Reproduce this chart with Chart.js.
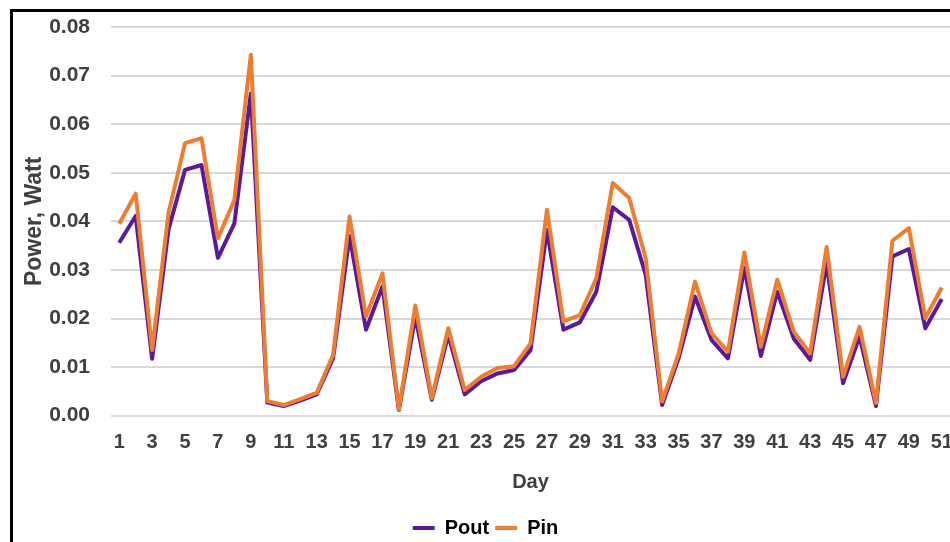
<!DOCTYPE html>
<html>
<head>
<meta charset="utf-8">
<script src="https://cdn.jsdelivr.net/npm/chart.js@4.4.1/dist/chart.umd.min.js"></script>
<style>
  html, body { margin: 0; padding: 0; width: 950px; height: 542px; overflow: hidden; background: #fff; }
  #frame {
    position: absolute; left: 10px; top: 9px;
    border-left: 3px solid #000; border-top: 3px solid #000;
    width: 960px; height: 536px; background: #fff;
  }
  #chart { display: block; }
</style>
</head>
<body>
<div id="frame"><canvas id="chart" width="960" height="536"></canvas></div>
<script>
// Daily output and input power (W)
const days = Array.from({ length: 51 }, (_, i) => String(i + 1));

const pout = [
  0.0356, 0.0411, 0.0117, 0.0384, 0.0506, 0.0516, 0.0325, 0.0396, 0.0663, 0.0027,
  0.0020, 0.0031, 0.0044, 0.0118, 0.0370, 0.0177, 0.0266, 0.0012, 0.0204, 0.0033,
  0.0166, 0.0044, 0.0071, 0.0087, 0.0094, 0.0135, 0.0382, 0.0177, 0.0192, 0.0255,
  0.0429, 0.0403, 0.0290, 0.0022, 0.0118, 0.0245, 0.0156, 0.0118, 0.0304, 0.0123,
  0.0255, 0.0159, 0.0115, 0.0314, 0.0067, 0.0163, 0.0020, 0.0328, 0.0343, 0.0180,
  0.0240
];

const pin = [
  0.0395, 0.0457, 0.0135, 0.0418, 0.0561, 0.0571, 0.0365, 0.0444, 0.0743, 0.0030,
  0.0022, 0.0034, 0.0047, 0.0125, 0.0410, 0.0204, 0.0293, 0.0013, 0.0227, 0.0036,
  0.0180, 0.0053, 0.0080, 0.0098, 0.0102, 0.0149, 0.0424, 0.0194, 0.0207, 0.0283,
  0.0479, 0.0448, 0.0324, 0.0029, 0.0127, 0.0276, 0.0170, 0.0132, 0.0336, 0.0142,
  0.0280, 0.0173, 0.0128, 0.0347, 0.0080, 0.0183, 0.0026, 0.0360, 0.0386, 0.0201,
  0.0264
];

const yTicks = [0, 0.01, 0.02, 0.03, 0.04, 0.05, 0.06, 0.07, 0.08];

const FONT = '"Liberation Sans", Arial, sans-serif';
const TEXT = '#404040';

new Chart(document.getElementById('chart'), {
  type: 'line',
  data: {
    labels: days,
    datasets: [
      {
        label: 'Pout', data: pout, order: 1,
        borderColor: '#5B1A98', backgroundColor: '#5B1A98',
        borderWidth: 4, pointRadius: 0, tension: 0, borderJoinStyle: 'round'
      },
      {
        label: 'Pin', data: pin, order: 0,
        borderColor: '#ED7D31', backgroundColor: '#ED7D31',
        borderWidth: 4, pointRadius: 0, tension: 0, borderJoinStyle: 'round'
      }
    ]
  },
  options: {
    responsive: false,
    animation: false,
    layout: { padding: { left: 8, right: 23, top: 15, bottom: 0 } },
    plugins: {
      tooltip: { enabled: false },
      legend: {
        position: 'bottom',
        labels: {
          sort: (a, b) => a.datasetIndex - b.datasetIndex,
          boxWidth: 22, boxHeight: 4, padding: 6,
          color: TEXT,
          font: { family: FONT, size: 20, weight: 'bold' },
          generateLabels: (chart) => chart.data.datasets.map((ds, i) => ({
            text: ds.label, datasetIndex: i,
            fillStyle: ds.borderColor, strokeStyle: ds.borderColor,
            lineWidth: 0, hidden: false
          }))
        }
      }
    },
    scales: {
      x: {
        offset: true,
        grid: { display: false, drawTicks: false },
        border: { display: false },
        ticks: {
          autoSkip: false, maxRotation: 0, minRotation: 0, padding: 15,
          color: TEXT, font: { family: FONT, size: 20, weight: 'bold' },
          callback: (v, i) => (i % 2 === 0 ? days[i] : '')
        },
        title: {
          display: true, text: 'Day', color: TEXT,
          font: { family: FONT, size: 20, weight: 'bold' },
          padding: { top: 0, bottom: 18 }
        },
        afterFit: (s) => { s.height = 96.3; }
      },
      y: {
        min: 0, max: 0.08,
        grid: { color: '#d9d9d9', lineWidth: 2, drawTicks: true, tickLength: 21, tickColor: 'rgba(0,0,0,0)' },
        border: { display: false },
        afterBuildTicks: (s) => { s.ticks = yTicks.map(v => ({ value: v })); },
        ticks: {
          padding: 0, color: TEXT,
          font: { family: FONT, size: 21, weight: 'bold' },
          callback: (v) => v.toFixed(2)
        },
        title: {
          display: true, text: 'Power, Watt', color: TEXT,
          font: { family: FONT, size: 23, weight: 'bold' },
          padding: { top: 0, bottom: 0 }
        },
        afterFit: (s) => { s.width = 90; }
      }
    }
  }
});
</script>
</body>
</html>
